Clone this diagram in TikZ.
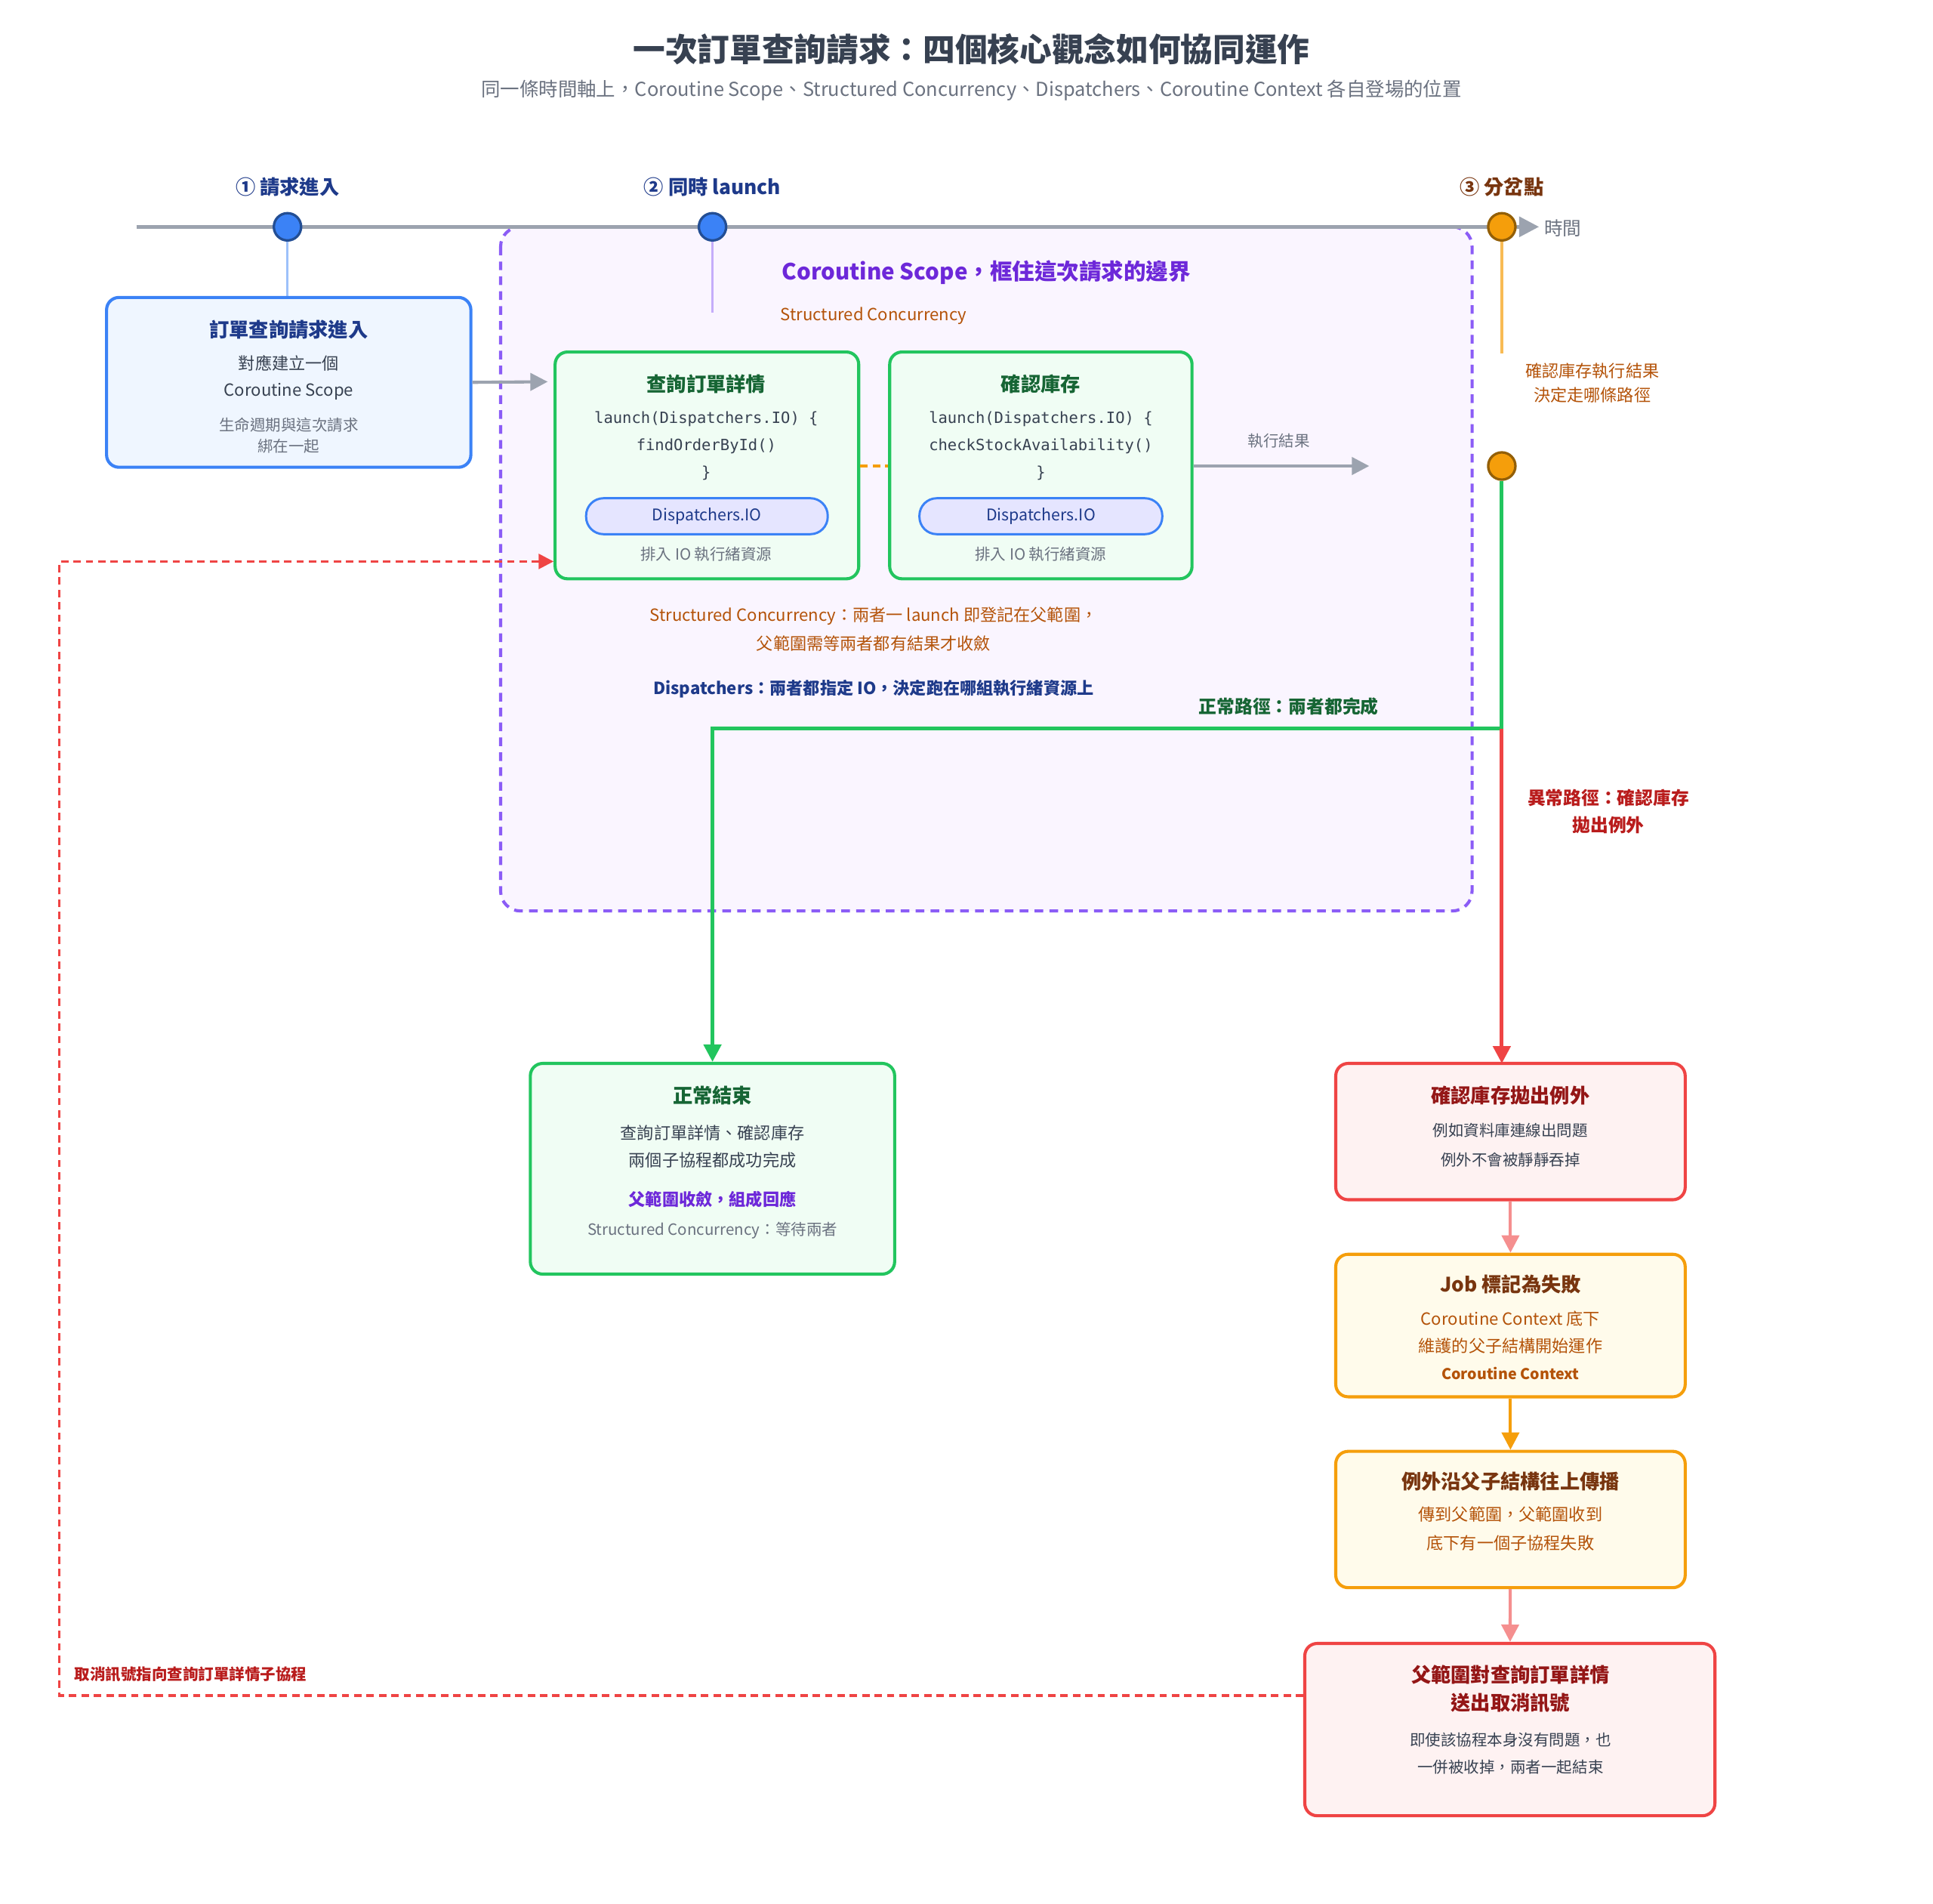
\documentclass[tikz,border=0pt]{standalone}
\usepackage{fontspec}
\setmainfont{Noto Sans CJK TC}
\newfontfamily\codefont{DejaVu Sans Mono}
\usetikzlibrary{arrows.meta}
\definecolor{tblue}{HTML}{1E3A8A}
\definecolor{bblue}{HTML}{3B82F6}
\definecolor{lblue}{HTML}{EFF6FF}
\definecolor{gline}{HTML}{9CA3AF}
\definecolor{purp}{HTML}{8B5CF6}
\definecolor{dpurp}{HTML}{6D28D9}
\definecolor{lpurp}{HTML}{FAF5FF}
\definecolor{grn}{HTML}{22C55E}
\definecolor{dgrn}{HTML}{166534}
\definecolor{lgrn}{HTML}{F0FDF4}
\definecolor{red1}{HTML}{EF4444}
\definecolor{dred}{HTML}{B91C1C}
\definecolor{lred}{HTML}{FEF2F2}
\definecolor{org}{HTML}{F59E0B}
\definecolor{brn}{HTML}{B45309}
\definecolor{dbrn}{HTML}{78350F}
\definecolor{lyel}{HTML}{FFFBEB}
\definecolor{txt}{HTML}{374151}
\definecolor{gtxt}{HTML}{6B7280}
\tikzset{
 every node/.style={inner sep=0pt,text=txt},
 box/.style={draw,line width=2.5pt,rounded corners=10pt},
 dot/.style={circle,minimum size=22pt,line width=2pt,draw=#1!60!black},
 tt/.style={font=\fontsize{16}{19}\selectfont\bfseries},
 bd/.style={font=\fontsize{13.5}{16}\selectfont},
 sm/.style={font=\fontsize{12.5}{15}\selectfont,text=gtxt},
 cd/.style={font=\fontsize{12.5}{15}\selectfont\codefont},
 arr/.style={-{Triangle[length=14pt,width=14pt]},line width=2.5pt},
 dsh/.style={dash pattern=on 6pt off 4pt},
}
\begin{document}
\begin{tikzpicture}[x=1pt,y=-1pt]
\useasboundingbox (0,0) rectangle (1560,1536);
\fill[white] (0,0) rectangle (1560,1536);
\node[font=\fontsize{26}{30}\selectfont\bfseries,text=txt] (title) at (784,40) {一次訂單查詢請求：四個核心觀念如何協同運作};
\node[font=\fontsize{15.5}{18}\selectfont,text=gtxt] (sub) at (784,73) {同一條時間軸上，Coroutine Scope、Structured Concurrency、Dispatchers、Coroutine Context 各自登場的位置};
% scope
\draw[purp,fill=lpurp,dash pattern=on 7pt off 5pt,line width=2.5pt,rounded corners=16pt] (404,183) rectangle (1188,735);
\node[font=\fontsize{18}{21}\selectfont\bfseries,text=dpurp] (st) at (796,220) {Coroutine Scope，框住這次請求的邊界};
\node[bd,text=brn] (sc) at (705,255) {Structured Concurrency};
% timeline
\coordinate (t0) at (110,183); \coordinate (t1) at (1242,183);
\draw[gline,line width=3pt,-{Triangle[length=16pt,width=16pt]}] (t0) -- (t1);
\node[font=\fontsize{15}{18}\selectfont,text=gtxt,anchor=west] (time) at (1246,184) {時間};
\node[dot=bblue,fill=bblue] (d1) at (232,183) {};
\node[dot=bblue,fill=bblue] (d2) at (575,183) {};
\node[dot=org,fill=org] (d3) at (1212,183) {};
\node[font=\fontsize{16}{19}\selectfont\bfseries,text=tblue] at (232,151) {① 請求進入};
\node[font=\fontsize{16}{19}\selectfont\bfseries,text=tblue] at (575,151) {② 同時 launch};
\node[font=\fontsize{16}{19}\selectfont\bfseries,text=dbrn] at (1212,151) {③ 分岔點};
\coordinate (p2) at (575,252); \coordinate (p3) at (1212,285);
\draw[bblue!50,line width=2pt] (d1) -- (232,240);
\draw[purp!50,line width=2pt] (d2) -- (p2);
\draw[org!70,line width=2pt] (d3) -- (p3);
% box1
\node[box,draw=bblue,fill=lblue,minimum width=294pt,minimum height=137pt] (b1) at (233,308.5) {};
\node[tt,text=tblue] at (233,266) {訂單查詢請求進入};
\node[bd] at (233,293) {對應建立一個};
\node[bd] at (233,316) {Coroutine Scope};
\node[sm] at (233,343) {生命週期與這次請求};
\node[sm] at (233,360) {綁在一起};
\coordinate (a1e) at (442,308);
\draw[gline,arr] (b1.east) -- (a1e);
% green boxes
\node[box,draw=grn,fill=lgrn,minimum width=245pt,minimum height=183pt] (ga) at (570.5,375.5) {};
\node[tt,text=dgrn] at (570,310) {查詢訂單詳情};
\node[cd] at (570,338) {launch(Dispatchers.IO) \{};
\node[cd] at (570,360) {findOrderById()};
\node[cd] at (570,382) {\}};
\node[draw=bblue,fill=blue!10,line width=1.8pt,rounded corners=14pt,minimum width=195pt,minimum height=29pt,font=\fontsize{13}{15}\selectfont,text=tblue] (pa) at (570.5,416.5) {Dispatchers.IO};
\node[sm] at (570,447) {排入 IO 執行緒資源};
\node[box,draw=grn,fill=lgrn,minimum width=244pt,minimum height=183pt] (gb) at (840,375.5) {};
\node[tt,text=dgrn] at (840,310) {確認庫存};
\node[cd] at (840,338) {launch(Dispatchers.IO) \{};
\node[cd] at (840,360) {checkStockAvailability()};
\node[cd] at (840,382) {\}};
\node[draw=bblue,fill=blue!10,line width=1.8pt,rounded corners=14pt,minimum width=196pt,minimum height=29pt,font=\fontsize{13}{15}\selectfont,text=tblue] (pb) at (840,416.5) {Dispatchers.IO};
\node[sm] at (840,447) {排入 IO 執行緒資源};
\draw[org,dsh,line width=2pt] (ga.east |- 0,376) -- (gb.west |- 0,376);
\coordinate (re) at (1105,376);
\draw[gline,arr] (gb.east |- 0,376) -- (re);
\node[sm] at (1032,356) {執行結果};
\node[bd,text=brn] at (1285,299) {確認庫存執行結果};
\node[bd,text=brn] at (1285,319) {決定走哪條路徑};
\node[dot=org,fill=org] (d4) at (1212,376) {};
\node[bd,text=brn] at (705,497) {Structured Concurrency：兩者一 launch 即登記在父範圍，};
\node[bd,text=brn] at (705,519) {父範圍需等兩者都有結果才收斂};
\node[bd,text=tblue,font=\fontsize{13.5}{16}\selectfont\bfseries] at (705,556) {Dispatchers：兩者都指定 IO，決定跑在哪組執行緒資源上};
\node[font=\fontsize{14.5}{17}\selectfont\bfseries,text=dgrn] at (1040,570) {正常路徑：兩者都完成};
\node[font=\fontsize{14.5}{17}\selectfont\bfseries,text=dred] at (1298,644) {異常路徑：確認庫存};
\node[font=\fontsize{14.5}{17}\selectfont\bfseries,text=dred] at (1298,666) {拋出例外};
% end boxes
\node[box,draw=grn,fill=lgrn,minimum width=294pt,minimum height=170pt] (ne) at (575,943) {};
\node[tt,text=dgrn] at (575,884) {正常結束};
\node[bd] at (575,914) {查詢訂單詳情、確認庫存};
\node[bd] at (575,936) {兩個子協程都成功完成};
\node[font=\fontsize{13.5}{16}\selectfont\bfseries,text=dpurp] at (575,968) {父範圍收斂，組成回應};
\node[sm] at (575,993) {Structured Concurrency：等待兩者};
\node[box,draw=red1,fill=lred,minimum width=282pt,minimum height=110pt] (r1) at (1219,913) {};
\node[tt,text=dred!80!black] at (1219,884) {確認庫存拋出例外};
\node[bd,font=\fontsize{12.5}{15}\selectfont] at (1219,912) {例如資料庫連線出問題};
\node[bd,font=\fontsize{12.5}{15}\selectfont] at (1219,936) {例外不會被靜靜吞掉};
\node[box,draw=org,fill=lyel,minimum width=282pt,minimum height=115pt] (y1) at (1219,1069.5) {};
\node[tt,text=dbrn] at (1219,1036) {Job 標記為失敗};
\node[bd,text=brn] at (1219,1064) {Coroutine Context 底下};
\node[bd,text=brn] at (1219,1086) {維護的父子結構開始運作};
\node[font=\fontsize{12}{14}\selectfont\bfseries,text=brn] at (1219,1108) {Coroutine Context};
\node[box,draw=org,fill=lyel,minimum width=282pt,minimum height=110pt] (y2) at (1219,1226) {};
\node[tt,text=dbrn] at (1219,1195) {例外沿父子結構往上傳播};
\node[bd,text=brn] at (1219,1222) {傳到父範圍，父範圍收到};
\node[bd,text=brn] at (1219,1245) {底下有一個子協程失敗};
\node[box,draw=red1,fill=lred,minimum width=331pt,minimum height=139pt] (r2) at (1218.5,1395.5) {};
\node[tt,text=dred!80!black] at (1219,1351) {父範圍對查詢訂單詳情};
\node[tt,text=dred!80!black] at (1219,1374) {送出取消訊號};
\node[bd,font=\fontsize{12.5}{15}\selectfont] at (1219,1404) {即使該協程本身沒有問題，也};
\node[bd,font=\fontsize{12.5}{15}\selectfont] at (1219,1426) {一併被收掉，兩者一起結束};
\draw[red1!60,arr] (r1) -- (y1);
\draw[org,arr] (y1) -- (y2);
\draw[red1!60,arr] (y2) -- (r2);
% paths
\draw[grn,arr,line width=3pt] (d4) -- (1212,588) -- (575,588) -- (ne.north);
\draw[red1,arr,line width=3pt] (1212,588) -- (1212,858);
\draw[red1,dsh,line width=2pt,-{Triangle[length=12pt,width=12pt]}] (r2.west |- 0,1368) -- (48,1368) -- (48,453) -- (ga.west |- 0,453);
\node[font=\fontsize{12.5}{15}\selectfont\bfseries,text=dred,anchor=west] at (60,1351) {取消訊號指向查詢訂單詳情子協程};
\end{tikzpicture}
\end{document}
